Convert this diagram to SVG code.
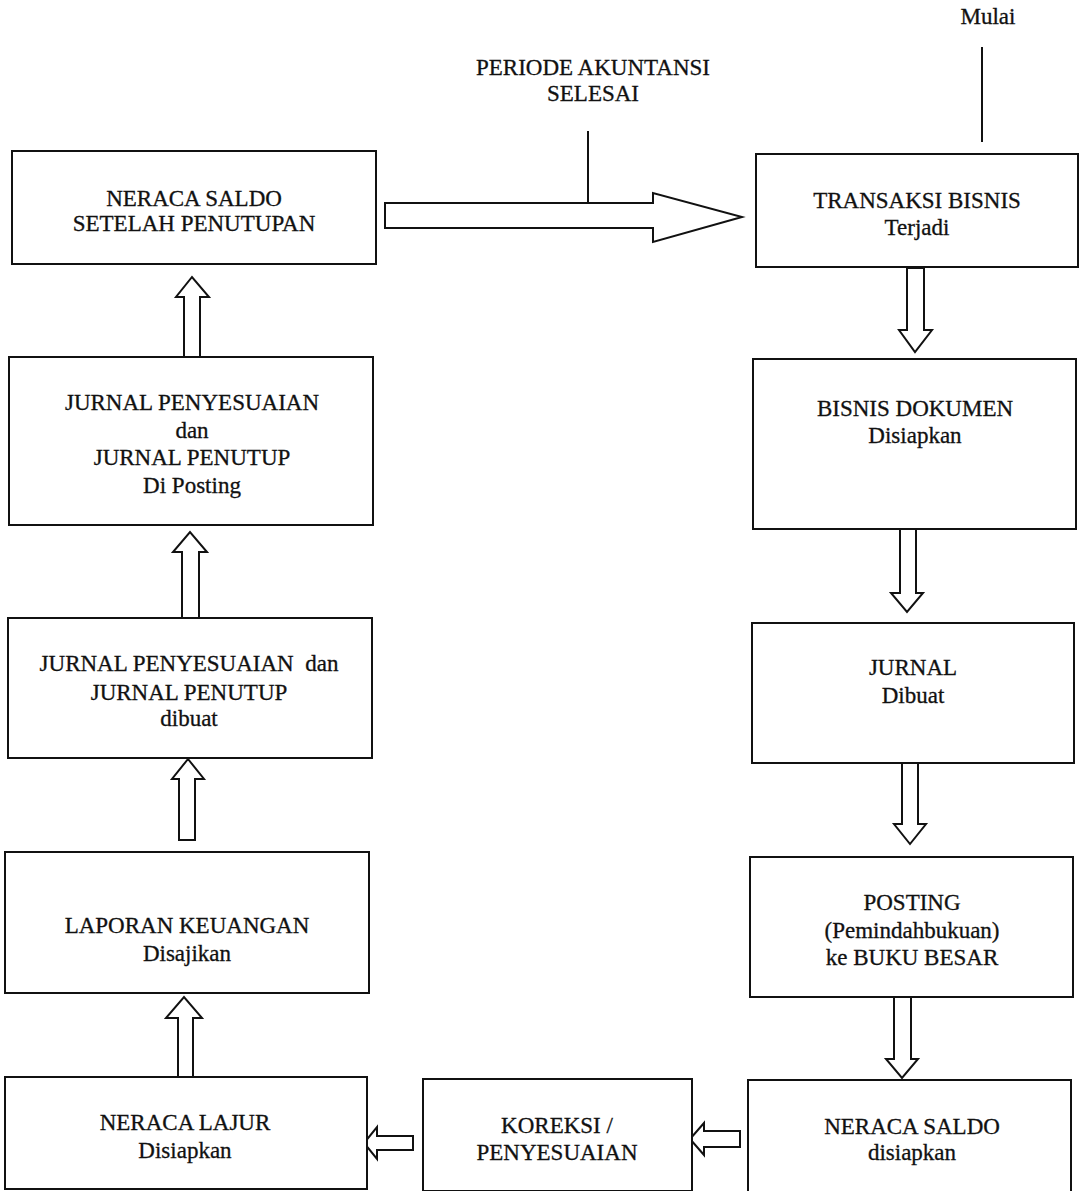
<svg xmlns="http://www.w3.org/2000/svg" width="1083" height="1191" viewBox="0 0 1083 1191">
<style>
.box{fill:#fff;stroke:#111;stroke-width:2}
.arr{fill:#fff;stroke:#111;stroke-width:2;stroke-linejoin:miter}
.ln{stroke:#111;stroke-width:2;fill:none}
text{font-family:"Liberation Serif","Times New Roman",serif;font-size:23px;fill:#111;text-anchor:middle;stroke:#111;stroke-width:0.3}
</style>
<rect width="1083" height="1191" fill="#fff"/>
<g id="connectors">
<line class="ln" x1="982" y1="47" x2="982" y2="142"/>
<line class="ln" x1="588" y1="131" x2="588" y2="203"/>
<polygon class="arr" points="385,203 653,203 653,193 742,217 653,242 653,228 385,228"/>
<polygon class="arr" points="184,357 184,297 176,297 192,277 209,297 200,297 200,357"/>
<polygon class="arr" points="182,618 182,552 173,552 190,532 207,552 199,552 199,618"/>
<polygon class="arr" points="179,840 179,779 172,779 188,759 204,779 195,779 195,840"/>
<polygon class="arr" points="178,1077 178,1018 166,1018 184,997 202,1018 193,1018 193,1077"/>
<polygon class="arr" points="413,1136 377,1136 377,1127 364,1143 377,1159 377,1150 413,1150"/>
<polygon class="arr" points="740,1131 704,1131 704,1123 690,1139 704,1155 704,1147 740,1147"/>
<polygon class="arr" points="907,268 907,330 899,330 915,352 932,330 924,330 924,268"/>
<polygon class="arr" points="900,529 900,593 891,593 907,612 923,593 916,593 916,529"/>
<polygon class="arr" points="902,763 902,824 894,824 910,844 926,824 918,824 918,763"/>
<polygon class="arr" points="894,997 894,1059 886,1059 902,1078 918,1059 911,1059 911,997"/>
</g>
<g id="label-mulai"><text x="988" y="24">Mulai</text></g>
<g id="label-periode">
<text x="593" y="75">PERIODE AKUNTANSI</text>
<text x="593" y="101">SELESAI</text>
</g>
<g id="n-neraca-penutupan">
<rect class="box" x="12" y="151" width="364" height="113"/>
<text x="194" y="206">NERACA SALDO</text>
<text x="194" y="231">SETELAH PENUTUPAN</text>
</g>
<g id="n-jurnal-posting">
<rect class="box" x="9" y="357" width="364" height="168"/>
<text x="192" y="410">JURNAL PENYESUAIAN</text>
<text x="192" y="438">dan</text>
<text x="192" y="465">JURNAL PENUTUP</text>
<text x="192" y="493">Di Posting</text>
</g>
<g id="n-jurnal-dibuat">
<rect class="box" x="8" y="618" width="364" height="140"/>
<text x="189" y="671" xml:space="preserve">JURNAL PENYESUAIAN  dan</text>
<text x="189" y="700">JURNAL PENUTUP</text>
<text x="189" y="726">dibuat</text>
</g>
<g id="n-laporan">
<rect class="box" x="5" y="852" width="364" height="141"/>
<text x="187" y="933">LAPORAN KEUANGAN</text>
<text x="187" y="961">Disajikan</text>
</g>
<g id="n-neraca-lajur">
<rect class="box" x="5" y="1077" width="362" height="112"/>
<text x="185" y="1130">NERACA LAJUR</text>
<text x="185" y="1158">Disiapkan</text>
</g>
<g id="n-koreksi">
<rect class="box" x="423" y="1079" width="269" height="112"/>
<text x="557" y="1133">KOREKSI /</text>
<text x="557" y="1160">PENYESUAIAN</text>
</g>
<g id="n-neraca-saldo">
<rect class="box" x="748" y="1080" width="323" height="112"/>
<text x="912" y="1134">NERACA SALDO</text>
<text x="912" y="1160">disiapkan</text>
</g>
<g id="n-transaksi">
<rect class="box" x="756" y="154" width="322" height="113"/>
<text x="917" y="208">TRANSAKSI BISNIS</text>
<text x="917" y="235">Terjadi</text>
</g>
<g id="n-dokumen">
<rect class="box" x="753" y="359" width="323" height="170"/>
<text x="915" y="416">BISNIS DOKUMEN</text>
<text x="915" y="443">Disiapkan</text>
</g>
<g id="n-jurnal">
<rect class="box" x="752" y="623" width="322" height="140"/>
<text x="913" y="675">JURNAL</text>
<text x="913" y="703">Dibuat</text>
</g>
<g id="n-posting">
<rect class="box" x="750" y="857" width="323" height="140"/>
<text x="912" y="910">POSTING</text>
<text x="912" y="938">(Pemindahbukuan)</text>
<text x="912" y="965">ke BUKU BESAR</text>
</g>
</svg>
